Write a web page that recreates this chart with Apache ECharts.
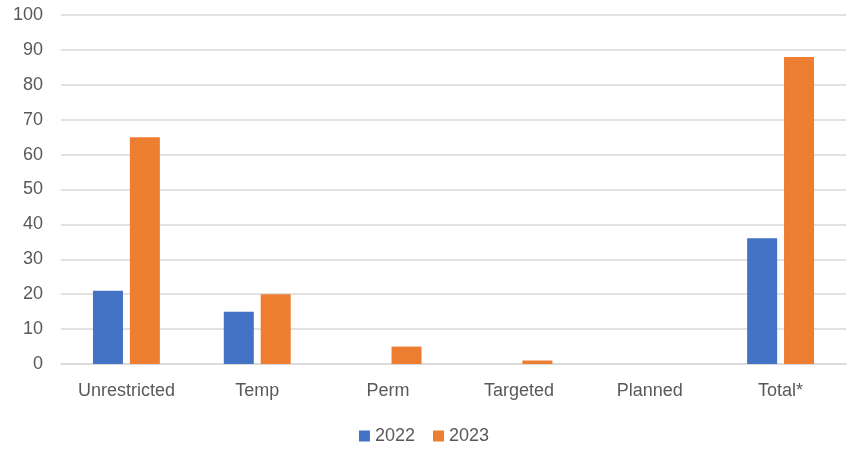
<!DOCTYPE html>
<html>
<head>
<meta charset="utf-8">
<script src="https://cdn.jsdelivr.net/npm/echarts@6/dist/echarts.min.js"></script>
<style>
  html, body { margin: 0; padding: 0; background: #fff; }
  #chart { width: 848px; height: 450px; }
</style>
</head>
<body>
<div id="chart"></div>
<script>
const categories = ['Unrestricted', 'Temp', 'Perm', 'Targeted', 'Planned', 'Total*']
const values2022 = [21, 15, 0, 0, 0, 36]
const values2023 = [65, 20, 5, 1, 0, 88]
const yTicks = { min: 0, max: 100, interval: 10 }

const textColor = '#595959'
const lineColor = '#d9d9d9'
const font = 'Liberation Sans, Arial, sans-serif'

const chart = echarts.init(document.getElementById('chart'))

chart.setOption({
  animation: false,
  textStyle: { fontFamily: font },
  grid: {
    left: 61,
    right: 2,
    top: 15,
    bottom: 86,
    containLabel: false
  },
  legend: {
    top: 422,
    left: 'center',
    itemWidth: 11,
    itemHeight: 11,
    itemGap: 18,
    itemTextGap: 5,
    icon: 'rect',
    textStyle: { color: textColor, fontSize: 18, fontFamily: font },
    data: ['2022', '2023']
  },
  xAxis: {
    type: 'category',
    data: categories,
    axisTick: { show: false },
    axisLine: { lineStyle: { color: lineColor, width: 1.5 } },
    axisLabel: { color: textColor, fontSize: 18, margin: 18, fontFamily: font }
  },
  yAxis: {
    type: 'value',
    min: yTicks.min,
    max: yTicks.max,
    interval: yTicks.interval,
    axisLine: { show: false },
    axisTick: { show: false },
    splitLine: { lineStyle: { color: lineColor, width: 1.5 } },
    axisLabel: { color: textColor, fontSize: 18, margin: 18, fontFamily: font }
  },
  series: [
    {
      name: '2022',
      type: 'bar',
      data: values2022,
      barWidth: 30,
      barGap: '23%',
      itemStyle: { color: '#4472C4' }
    },
    {
      name: '2023',
      type: 'bar',
      data: values2023,
      barWidth: 30,
      barGap: '23%',
      itemStyle: { color: '#ED7D31' }
    }
  ]
})
</script>
</body>
</html>
